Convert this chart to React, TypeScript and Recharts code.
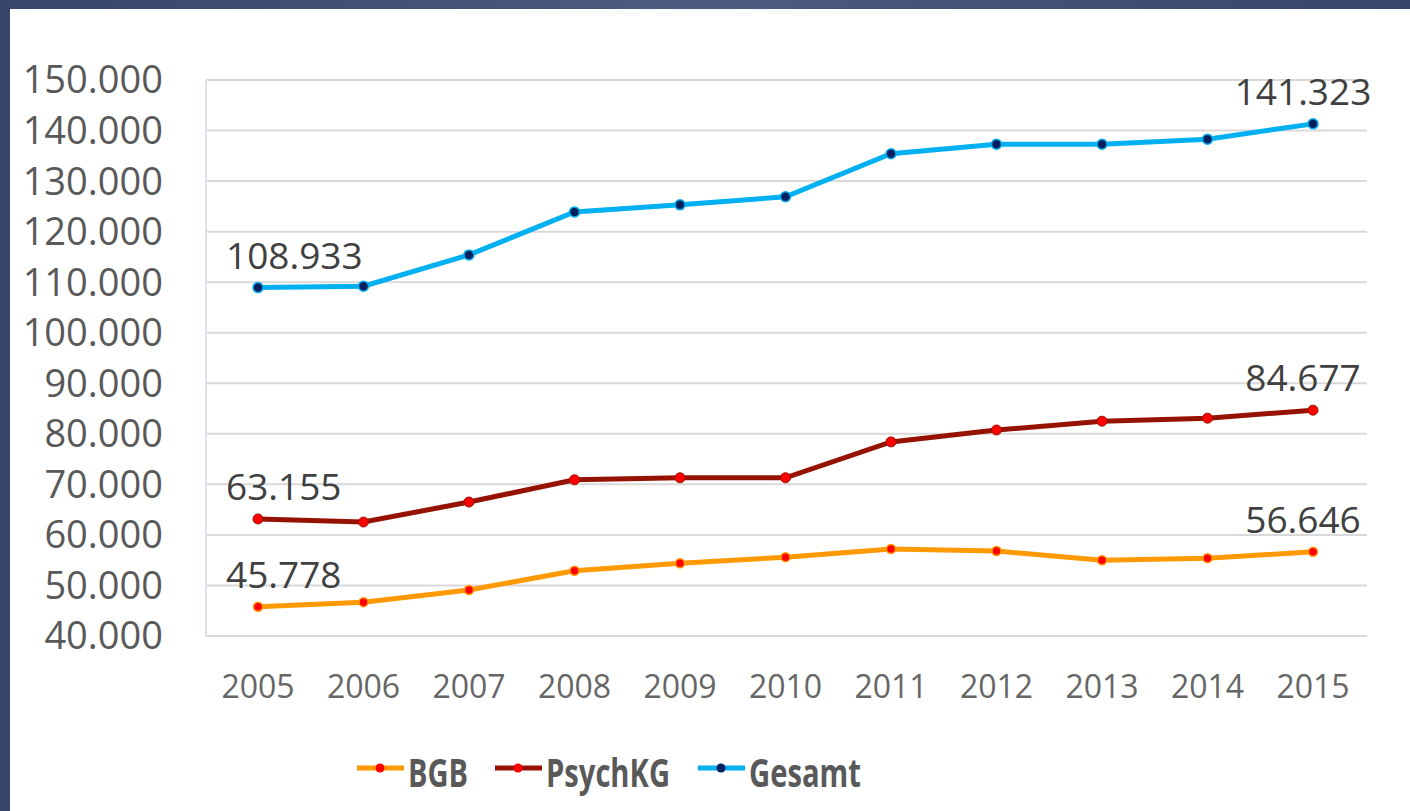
import { LineChart, Line, XAxis, YAxis, CartesianGrid, Legend, LabelList } from 'recharts';

const years = ['2005', '2006', '2007', '2008', '2009', '2010', '2011', '2012', '2013', '2014', '2015'];
const bgb = [45778, 46700, 49100, 52900, 54400, 55600, 57200, 56800, 55000, 55400, 56646];
const psychKG = [63155, 62550, 66500, 70900, 71300, 71300, 78400, 80750, 82500, 83100, 84677];
const gesamt = [108933, 109200, 115400, 123900, 125300, 126900, 135400, 137300, 137300, 138300, 141323];
const yTicks = [40000, 50000, 60000, 70000, 80000, 90000, 100000, 110000, 120000, 130000, 140000, 150000];

const data = years.map((year, i) => ({
  year,
  BGB: bgb[i],
  PsychKG: psychKG[i],
  Gesamt: gesamt[i],
}));

const FONT = '"Open Sans", "DejaVu Sans", sans-serif';

// 150000 -> "150.000"
const fmt = (v: number) => {
  const s = Math.round(v).toString();
  return s.replace(/\B(?=(\d{3})+(?!\d))/g, '.');
};

const EndLabel = (props: any) => {
  const { x, y, value, index } = props;
  if (index !== 0 && index !== years.length - 1) return null;
  const first = index === 0;
  return (
    <text
      x={first ? x - 32 : x - 10}
      y={y - 19}
      textAnchor={first ? 'start' : 'middle'}
      fontSize={37}
      fontFamily={FONT}
      fill="#404040"
    >
      {fmt(value)}
    </text>
  );
};

const legendItems = [
  { name: 'BGB', color: '#ff9900', dot: '#ff0000', x: 347, tw: 60 },
  { name: 'PsychKG', color: '#961200', dot: '#ff0000', x: 485, tw: 124 },
  { name: 'Gesamt', color: '#00b0f0', dot: '#002060', x: 688, tw: 112 },
];

const renderLegend = () => (
  <svg width={1400} height={70}>
    {legendItems.map((it) => (
      <g key={it.name}>
        <line x1={it.x} x2={it.x + 47} y1={24} y2={24} stroke={it.color} strokeWidth={5} />
        <circle cx={it.x + 23} cy={24} r={4.5} fill={it.dot} />
        <text
          x={it.x + 51}
          y={43}
          fontSize={40}
          fontWeight="bold"
          fontFamily={FONT}
          fill="#595959"
          textLength={it.tw}
          lengthAdjust="spacingAndGlyphs"
        >
          {it.name}
        </text>
      </g>
    ))}
  </svg>
);

export default function App() {
  return (
    <div
      style={{
        position: 'fixed',
        left: 0,
        top: 0,
        width: 1410,
        height: 811,
        background: 'linear-gradient(90deg, #36456a 0%, #4b5b81 50%, #36456a 100%)',
      }}
    >
      <div style={{ position: 'absolute', left: 10, top: 9, width: 1400, height: 802, background: '#ffffff' }}>
        <LineChart width={1400} height={802} data={data} margin={{ top: 71, right: 43, left: 0, bottom: 0 }}>
          <CartesianGrid vertical={false} stroke="#d9d9d9" strokeWidth={2} />
          <XAxis
            dataKey="year"
            height={105}
            padding={{ left: 52, right: 54 }}
            tickLine={false}
            tickSize={0}
            tickMargin={39}
            axisLine={{ stroke: '#d9d9d9', strokeWidth: 2 }}
            tick={{ fontSize: 32, fill: '#666666', fontFamily: FONT }}
          />
          <YAxis
            width={196}
            domain={[40000, 150000]}
            ticks={yTicks}
            tickFormatter={fmt}
            tickLine={false}
            tickSize={0}
            tickMargin={43}
            axisLine={{ stroke: '#dce3ee', strokeWidth: 2 }}
            tick={{ fontSize: 38, fill: '#595959', fontFamily: FONT }}
          />
          <Legend
            verticalAlign="bottom"
            content={renderLegend}
            wrapperStyle={{ left: 0, top: 735, width: 1400, height: 70 }}
          />
          <Line
            type="linear"
            dataKey="BGB"
            stroke="#ff9900"
            strokeWidth={5}
            dot={{ r: 4.5, fill: '#ff0000', stroke: '#ff9900', strokeWidth: 1.5 }}
            isAnimationActive={false}
          >
            <LabelList dataKey="BGB" content={EndLabel} />
          </Line>
          <Line
            type="linear"
            dataKey="PsychKG"
            stroke="#961200"
            strokeWidth={5}
            dot={{ r: 5, fill: '#ff0000', stroke: '#961200', strokeWidth: 1 }}
            isAnimationActive={false}
          >
            <LabelList dataKey="PsychKG" content={EndLabel} />
          </Line>
          <Line
            type="linear"
            dataKey="Gesamt"
            stroke="#00b0f0"
            strokeWidth={5}
            dot={{ r: 5, fill: '#002060', stroke: '#00b0f0', strokeWidth: 1.5 }}
            isAnimationActive={false}
          >
            <LabelList dataKey="Gesamt" content={EndLabel} />
          </Line>
        </LineChart>
      </div>
    </div>
  );
}
